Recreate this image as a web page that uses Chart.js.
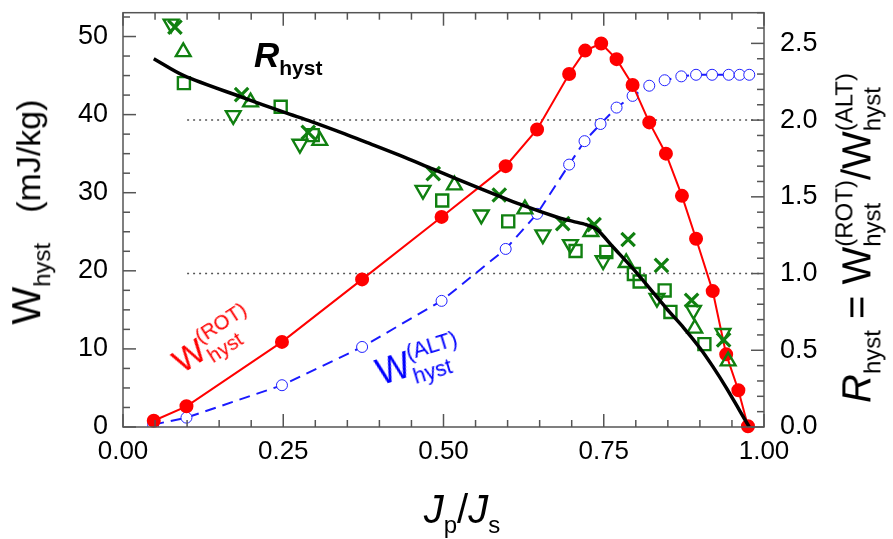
<!DOCTYPE html>
<html lang="en">

<head>
    <meta charset="UTF-8">
    <title>Hysteresis loss vs Jp/Js</title>
    <script src="https://cdn.jsdelivr.net/npm/chart.js"></script>
    <style>
        body { margin: 0; background: #fff; }
        #wrap { position: relative; width: 893px; height: 539px; font-family: "Liberation Sans", Arial, Helvetica, sans-serif; color: #000; }
        #wrap canvas { position: absolute; left: 0; top: 0; }
        .lbl { position: absolute; white-space: nowrap; line-height: 1; }
        .sb { font-size: 0.6em; vertical-align: -0.4em; }
        .st { display: inline-block; font-size: 0.6em; line-height: 1.15; vertical-align: -0.4em; text-align: left; }
        .st span { display: block; }
    </style>
</head>

<body>
    <div id="wrap">
        <canvas id="hyst" width="893" height="539"></canvas>

        <!-- axis titles -->
        <div class="lbl" id="leftTitle" style="left:30px; top:212px; font-size:40px; transform:translate(-50%,-50%) rotate(-90deg);">
            W<span class="sb">hyst</span><span style="font-size:34px; margin-left:30px;">(mJ/kg)</span>
        </div>
        <div class="lbl" id="rightTitle" style="left:858px; top:238px; font-size:40px; transform:translate(-50%,-50%) rotate(-90deg);">
            <i>R</i><span class="sb">hyst</span> = W<span class="st"><span>(ROT)</span><span>hyst</span></span>/W<span class="st"><span>(ALT)</span><span>hyst</span></span>
        </div>
        <div class="lbl" id="xTitle" style="left:462px; top:489px; font-size:40px; transform:translateX(-50%);">
            <i>J</i><span class="sb">p</span>/<i>J</i><span class="sb">s</span>
        </div>

        <!-- curve labels -->
        <div class="lbl" style="left:254px; top:37px; font-size:35px; font-weight:bold;">
            <i>R</i><span class="sb">hyst</span>
        </div>
        <div class="lbl" style="left:214px; top:342px; font-size:34px; color:#ff0000; transform:translate(-50%,-50%) rotate(-33deg);">
            W<span class="st"><span>(ROT)</span><span>hyst</span></span>
        </div>
        <div class="lbl" style="left:419px; top:363px; font-size:36px; color:#0000ff; transform:translate(-50%,-50%) rotate(-17deg);">
            W<span class="st"><span>(ALT)</span><span>hyst</span></span>
        </div>
    </div>

    <script>
        // W_hyst (ROT), mJ/kg
        const rotX = [0.048, 0.099, 0.248, 0.373, 0.497, 0.597, 0.646, 0.696, 0.721, 0.746, 0.770, 0.795, 0.821, 0.847, 0.872, 0.894, 0.920, 0.941, 0.960, 0.975];
        const rotW = [0.8, 2.65, 10.9, 18.9, 26.9, 33.4, 38.1, 45.2, 48.2, 49.1, 47.1, 43.8, 39.0, 35.0, 29.6, 24.1, 17.4, 9.3, 4.7, 0.1];

        // W_hyst (ALT), mJ/kg
        const altX = [0.047, 0.099, 0.248, 0.373, 0.497, 0.597, 0.646, 0.696, 0.720, 0.745, 0.770, 0.795, 0.821, 0.845, 0.871, 0.894, 0.919, 0.945, 0.962, 0.977];
        const altW = [0.3, 1.2, 5.35, 10.25, 16.15, 22.8, 27.3, 33.6, 36.6, 38.8, 40.9, 42.4, 43.7, 44.4, 44.9, 45.1, 45.1, 45.1, 45.1, 45.1];

        // R_hyst model curve (right axis)
        const rCurveX = [0.048, 0.095, 0.185, 0.252, 0.294, 0.346, 0.380, 0.432, 0.484, 0.551, 0.619, 0.681, 0.702, 0.723, 0.740, 0.764, 0.796, 0.848, 0.875, 0.900, 0.920, 0.941, 0.962, 0.977];
        const rCurve = [2.40, 2.29, 2.15, 2.05, 1.99, 1.91, 1.855, 1.77, 1.68, 1.565, 1.452, 1.362, 1.340, 1.318, 1.285, 1.175, 1.03, 0.772, 0.645, 0.515, 0.395, 0.257, 0.107, 0.0];

        // measured R_hyst, one array pair per symbol
        const crossX = [0.081, 0.185, 0.289, 0.484, 0.587, 0.686, 0.735, 0.788, 0.840, 0.887, 0.937];
        const crossR = [2.606, 2.166, 1.920, 1.651, 1.512, 1.325, 1.319, 1.222, 1.053, 0.826, 0.568];
        const triUpX = [0.094, 0.199, 0.307, 0.517, 0.627, 0.730, 0.785, 0.892, 0.944];
        const triUpR = [2.445, 2.117, 1.866, 1.576, 1.420, 1.272, 1.070, 0.643, 0.429];
        const squareX = [0.095, 0.246, 0.296, 0.498, 0.601, 0.706, 0.754, 0.797, 0.806, 0.845, 0.854, 0.907];
        const squareR = [2.241, 2.087, 1.902, 1.476, 1.340, 1.147, 1.141, 0.997, 0.948, 0.890, 0.750, 0.540];
        const triDownX = [0.075, 0.172, 0.276, 0.468, 0.559, 0.655, 0.698, 0.749, 0.833, 0.890, 0.936];
        const triDownR = [2.627, 2.031, 1.844, 1.544, 1.383, 1.254, 1.190, 1.085, 0.840, 0.761, 0.611];

        // dotted reference levels on the R axis
        const refLevels = [1.0, 2.0];
        const refFrom = 0.1;
        const refTo = 1.0;

        // axis ranges and tick steps
        const xRange = [0, 1];
        const wRange = [0, 53.05];
        const rRange = [0, 2.70];
        const xStep = 0.25, xMinor = 0.05;
        const wStep = 10, wMinor = 2.5;
        const rStep = 0.5, rMinor = 0.1;

        const FONT = '"Liberation Sans", Arial, Helvetica, sans-serif';
        const GREEN = 'rgb(16,128,16)';

        function pts(xs, ys) {
            return xs.map((x, i) => ({ x: x, y: ys[i] }));
        }

        // inward tick marks on all four sides plus the frame
        const frameTicks = {
            id: 'frameTicks',
            afterDatasetsDraw(chart) {
                const { ctx, chartArea: a, scales } = chart;
                ctx.save();
                ctx.strokeStyle = '#555';
                ctx.lineWidth = 1.5;
                const line = (x1, y1, x2, y2) => {
                    ctx.beginPath();
                    ctx.moveTo(x1, y1);
                    ctx.lineTo(x2, y2);
                    ctx.stroke();
                };
                const nx = Math.round((xRange[1] - xRange[0]) / xMinor);
                for (let i = 0; i <= nx; i++) {
                    const px = scales.x.getPixelForValue(xRange[0] + i * xMinor);
                    const len = (i % Math.round(xStep / xMinor) === 0) ? 13 : 7;
                    line(px, a.bottom, px, a.bottom - len);
                    line(px, a.top, px, a.top + len);
                }
                const nw = Math.floor(wRange[1] / wMinor);
                for (let i = 0; i <= nw; i++) {
                    const py = scales.y.getPixelForValue(i * wMinor);
                    const len = (i % Math.round(wStep / wMinor) === 0) ? 13 : 7;
                    line(a.left, py, a.left + len, py);
                }
                const nr = Math.floor(rRange[1] / rMinor + 1e-6);
                for (let i = 0; i <= nr; i++) {
                    const py = scales.y2.getPixelForValue(i * rMinor);
                    const len = (i % Math.round(rStep / rMinor) === 0) ? 13 : 7;
                    line(a.right, py, a.right - len, py);
                }
                ctx.strokeRect(a.left, a.top, a.width, a.height);
                ctx.restore();
            }
        };

        const refSets = refLevels.map(level => ({
            label: 'R = ' + level,
            data: pts([refFrom, refTo], [level, level]),
            yAxisID: 'y2',
            showLine: true,
            borderColor: '#555',
            borderWidth: 1.5,
            borderDash: [2, 4],
            pointRadius: 0,
            order: 5
        }));

        function markerSet(label, xs, ys, style, rot) {
            return {
                label: label,
                data: pts(xs, ys),
                yAxisID: 'y2',
                showLine: false,
                pointStyle: style,
                rotation: rot || 0,
                pointRadius: style === 'crossRot' ? 9.5 : 8.5,
                pointBorderWidth: style === 'crossRot' ? 3.2 : 2.4,
                pointBorderColor: GREEN,
                pointBackgroundColor: 'rgba(0,0,0,0)',
                order: 1
            };
        }

        // keep the plot box where the reference has it: no extra room for edge labels
        function fixVertical(width) {
            return scale => {
                scale.width = width;
                scale.paddingTop = 0;
                scale.paddingBottom = 0;
            };
        }

        const ctx = document.getElementById('hyst').getContext('2d');
        const hystChart = new Chart(ctx, {
            type: 'scatter',
            data: {
                datasets: [
                    {
                        label: 'R_hyst',
                        data: pts(rCurveX, rCurve),
                        yAxisID: 'y2',
                        showLine: true,
                        borderColor: '#000',
                        borderWidth: 3.5,
                        tension: 0.3,
                        pointRadius: 0,
                        order: 0
                    },
                    markerSet('x', crossX, crossR, 'crossRot'),
                    markerSet('triangle up', triUpX, triUpR, 'triangle'),
                    markerSet('square', squareX, squareR, 'rect'),
                    markerSet('triangle down', triDownX, triDownR, 'triangle', 180),
                    {
                        label: 'W_hyst ROT',
                        data: pts(rotX, rotW),
                        yAxisID: 'y',
                        showLine: true,
                        borderColor: '#ff0000',
                        borderWidth: 2,
                        pointRadius: 6,
                        pointBackgroundColor: '#ff0000',
                        pointBorderColor: '#ff0000',
                        clip: false,
                        order: 2
                    },
                    {
                        label: 'W_hyst ALT',
                        data: pts(altX, altW),
                        yAxisID: 'y',
                        showLine: true,
                        borderColor: '#1a1aff',
                        borderWidth: 2,
                        borderDash: [11, 7],
                        pointRadius: 5.5,
                        pointBorderWidth: 1,
                        pointBackgroundColor: '#fff',
                        pointBorderColor: '#2222ff',
                        order: 3
                    },
                    ...refSets
                ]
            },
            options: {
                responsive: false,
                animation: false,
                devicePixelRatio: 1,
                layout: { padding: { top: 7, left: 0, right: 0, bottom: 0 } },
                plugins: {
                    legend: { display: false },
                    tooltip: { enabled: false }
                },
                scales: {
                    x: {
                        type: 'linear',
                        position: 'bottom',
                        min: xRange[0],
                        max: xRange[1],
                        grid: { display: false, drawTicks: false, tickLength: 0 },
                        border: { display: false },
                        ticks: {
                            stepSize: xStep,
                            includeBounds: false,
                            autoSkip: false,
                            maxRotation: 0,
                            padding: 9,
                            color: '#000',
                            font: { family: FONT, size: 26 },
                            callback: v => Number(v).toFixed(2)
                        },
                        afterFit(scale) {
                            scale.height = 112;
                            scale.paddingLeft = 0;
                            scale.paddingRight = 0;
                        }
                    },
                    y: {
                        type: 'linear',
                        position: 'left',
                        min: wRange[0],
                        max: wRange[1],
                        grid: { display: false, drawTicks: false, tickLength: 0 },
                        border: { display: false },
                        ticks: {
                            stepSize: wStep,
                            includeBounds: false,
                            autoSkip: false,
                            padding: 15,
                            color: '#000',
                            font: { family: FONT, size: 27 },
                            callback: v => String(Math.round(v))
                        },
                        afterFit: fixVertical(123)
                    },
                    y2: {
                        type: 'linear',
                        position: 'right',
                        min: rRange[0],
                        max: rRange[1],
                        grid: { display: false, drawTicks: false, tickLength: 0 },
                        border: { display: false },
                        ticks: {
                            stepSize: rStep,
                            includeBounds: false,
                            autoSkip: false,
                            padding: 16,
                            color: '#000',
                            font: { family: FONT, size: 27 },
                            callback: v => Number(v).toFixed(1)
                        },
                        afterFit: fixVertical(129)
                    }
                }
            },
            plugins: [frameTicks]
        });
    </script>
</body>

</html>
